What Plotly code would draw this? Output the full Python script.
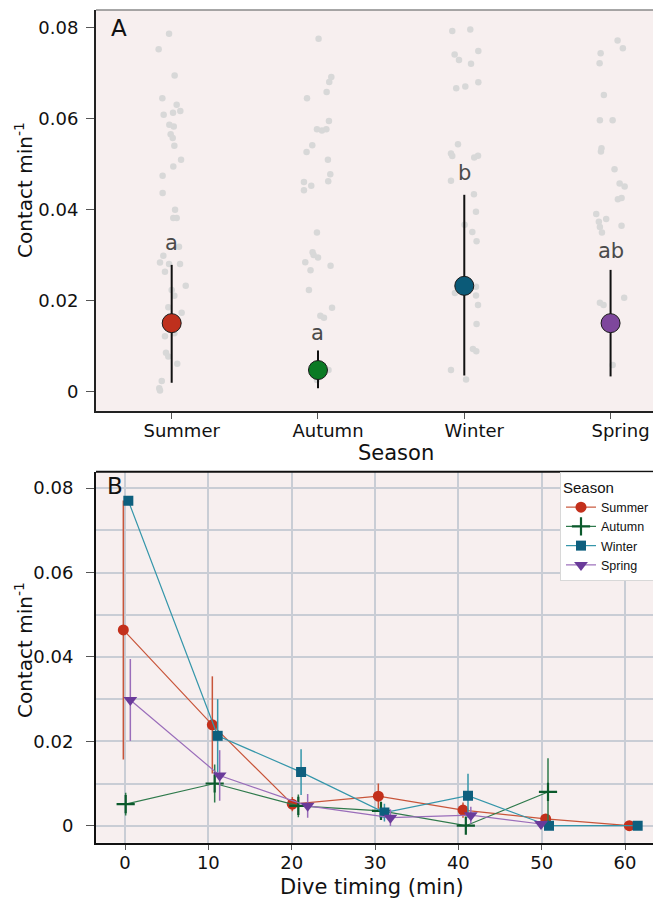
import plotly.graph_objects as go

# ---------------- Panel A data ----------------
seasons = ["Summer", "Autumn", "Winter", "Spring"]

summer_vals = [0.0753, 0.0787, 0.0695, 0.0645, 0.0631, 0.0617, 0.0613, 0.0609, 0.0587, 0.0583,
               0.0566, 0.0558, 0.0541, 0.0510, 0.0495, 0.0475, 0.0437, 0.0400, 0.0382, 0.0382,
               0.0319, 0.0299, 0.0284, 0.0281, 0.0281, 0.0264, 0.0233, 0.0224, 0.0211, 0.0186,
               0.0174, 0.0158, 0.0129, 0.0122, 0.0086, 0.0078, 0.0062, 0.0024, 0.0008, 0.0003]
summer_jit = [-0.089, -0.018, 0.020, -0.064, 0.034, 0.059, 0.009, -0.055, -0.016, 0.014,
              -0.007, 0.007, 0.018, 0.064, 0.011, -0.062, -0.062, 0.023, 0.011, 0.034,
              0.050, -0.057, -0.080, -0.018, 0.057, -0.046, 0.096, 0.000, 0.018, -0.023,
              0.068, 0.011, 0.018, -0.046, -0.039, -0.023, 0.038, -0.068, -0.085, -0.080]

autumn_vals = [0.0776, 0.0692, 0.0681, 0.0659, 0.0645, 0.0595, 0.0577, 0.0574, 0.0577, 0.0542,
               0.0527, 0.0510, 0.0478, 0.0463, 0.0461, 0.0453, 0.0443, 0.0350, 0.0307, 0.0301,
               0.0295, 0.0285, 0.0277, 0.0267, 0.0224, 0.0185, 0.0167, 0.0163, 0.0048, 0.0026]
autumn_jit = [0.004, 0.091, 0.077, 0.059, -0.075, 0.075, -0.007, 0.027, 0.057, -0.039,
              -0.078, 0.068, 0.084, 0.070, -0.096, -0.046, -0.096, -0.007, -0.037, -0.030,
              0.000, -0.087, 0.086, -0.051, -0.062, 0.096, 0.016, 0.041, 0.072, -0.007]

winter_vals = [0.0793, 0.0796, 0.0741, 0.0749, 0.0729, 0.0721, 0.0667, 0.0671, 0.0680, 0.0544,
               0.0524, 0.0518, 0.0515, 0.0519, 0.0464, 0.0434, 0.0396, 0.0367, 0.0351, 0.0331,
               0.0231, 0.0217, 0.0212, 0.0191, 0.0149, 0.0094, 0.0089, 0.0048, 0.0027]
winter_jit = [-0.082, 0.041, -0.066, 0.096, -0.036, 0.046, -0.055, 0.007, 0.096, -0.043,
              -0.091, -0.082, 0.068, 0.094, -0.091, 0.066, 0.080, 0.002, 0.055, 0.084,
              0.080, -0.064, 0.080, 0.094, 0.084, 0.059, 0.082, -0.091, 0.012]

spring_vals = [0.0772, 0.0755, 0.0744, 0.0722, 0.0652, 0.0597, 0.0597, 0.0535, 0.0528, 0.0489,
               0.0458, 0.0451, 0.0423, 0.0426, 0.0391, 0.0374, 0.0380, 0.0362, 0.0350, 0.0365,
               0.0207, 0.0196, 0.0191, 0.0059]
spring_jit = [0.048, 0.084, -0.068, -0.075, -0.046, -0.073, 0.014, -0.062, -0.066, 0.027,
              0.062, 0.096, 0.050, 0.075, -0.098, -0.080, -0.030, -0.073, -0.059, 0.075,
              0.093, -0.073, -0.048, 0.014]

season_means = [0.0151, 0.0048, 0.0233, 0.0151]
season_lo = [0.0020, 0.0008, 0.0036, 0.0034]
season_hi = [0.0279, 0.0091, 0.0433, 0.0268]
season_letters = ["a", "a", "b", "ab"]
letter_y = [0.0328, 0.0130, 0.0481, 0.0310]
season_colors_a = ["#BF301D", "#0B7A24", "#0B5A78", "#7E479C"]

# ---------------- Panel B data ----------------
summer_t = [-0.2, 10.48, 20.08, 30.4, 40.56, 50.48, 60.52]
summer_c = [0.0464, 0.0239, 0.0051, 0.0070, 0.0037, 0.0016, 0.0]
summer_e = [0.0307, 0.0115, 0.0017, 0.0030, 0.0018, 0.0010, 0.0]

autumn_t = [0.08, 10.76, 20.8, 30.72, 40.9, 50.76]
autumn_c = [0.0051, 0.0100, 0.0047, 0.0035, 0.0, 0.0080]
autumn_e = [0.0027, 0.0045, 0.0027, 0.0020, 0.0005, 0.0080]

winter_t = [0.4, 11.12, 21.13, 31.13, 41.16, 50.88, 61.52]
winter_c = [0.0770, 0.0213, 0.0127, 0.0031, 0.0071, 0.0, 0.0]
winter_e = [0.0, 0.0087, 0.0054, 0.0021, 0.0052, 0.0, 0.0]

spring_t = [0.64, 11.36, 21.92, 31.85, 41.5, 49.92]
spring_c = [0.0298, 0.0119, 0.0047, 0.0019, 0.0025, 0.0004]
spring_e = [0.0097, 0.0060, 0.0028, 0.0020, 0.0020, 0.0003]

y_ticks = [0, 0.02, 0.04, 0.06, 0.08]
y_ticktext = ["0", "0.02", "0.04", "0.06", "0.08"]
x_ticks_b = [0, 10, 20, 30, 40, 50, 60]

# ---------------- Figure ----------------
W, H = 653, 905
FONT = "DejaVu Sans"
BG = "#F7EFEF"
GRID = "#C9CDD5"


def px_x(p):
    return p / W


def px_y(p):
    return 1 - p / H


fig = go.Figure()

# Panel A jittered raw points
for i, (vals, jit) in enumerate([(summer_vals, summer_jit), (autumn_vals, autumn_jit),
                                  (winter_vals, winter_jit), (spring_vals, spring_jit)]):
    fig.add_trace(go.Scatter(
        x=[i + 1 + j for j in jit], y=vals, mode="markers",
        marker=dict(size=6.5, color="#D8D8D8"),
        xaxis="x", yaxis="y", showlegend=False, hoverinfo="skip"))

# Panel A means with intervals
fig.add_trace(go.Scatter(
    x=[1, 2, 3, 4], y=season_means, mode="markers",
    marker=dict(size=19, color=season_colors_a, line=dict(color="#1a1a1a", width=1)),
    error_y=dict(type="data", symmetric=False,
                 array=[h - m for h, m in zip(season_hi, season_means)],
                 arrayminus=[m - l for m, l in zip(season_means, season_lo)],
                 color="#111111", thickness=2, width=0),
    xaxis="x", yaxis="y", showlegend=False))

# Panel B series
series_b = [
    ("Summer", summer_t, summer_c, summer_e, "#C3301C", "#C8553A", "circle", 11, 0),
    ("Autumn", autumn_t, autumn_c, autumn_e, "#0B5A2C", "#2F7A4C", "cross-thin", 13, 2.2),
    ("Winter", winter_t, winter_c, winter_e, "#0E5F7E", "#3596AA", "square", 10, 0),
    ("Spring", spring_t, spring_c, spring_e, "#6A3B9A", "#9A6DBA", "triangle-down", 12, 0),
]
for name, t, c, e, mcol, lcol, sym, size, lw in series_b:
    fig.add_trace(go.Scatter(
        x=t, y=c, mode="lines+markers", name=name,
        line=dict(color=lcol, width=1.2),
        marker=dict(symbol=sym, size=size, color=mcol, line=dict(color=mcol, width=lw)),
        error_y=dict(type="data", array=e, color=lcol, thickness=1.5, width=0),
        xaxis="x2", yaxis="y2"))

axis_font = dict(family=FONT, size=18, color="#111111")

fig.update_layout(
    width=W, height=H,
    margin=dict(l=0, r=0, t=0, b=0, autoexpand=False),
    paper_bgcolor="white",
    font=dict(family=FONT, color="#111111"),
    xaxis=dict(domain=[px_x(96), 1.0], anchor="y", range=[0.4826, 4.29],
               tickmode="array", tickvals=[1, 2, 3, 4], ticktext=seasons,
               showgrid=False, zeroline=False, showline=True, linecolor="#222222", linewidth=2,
               ticks="outside", ticklen=6, tickwidth=1, tickcolor="#555555",
               tickfont=axis_font, ticklabelshift=10, ticklabelstandoff=-4),
    yaxis=dict(domain=[px_y(411), px_y(10)], anchor="x", range=[-0.0042, 0.0839],
               tickmode="array", tickvals=y_ticks, ticktext=y_ticktext,
               showgrid=False, zeroline=False, showline=True, linecolor="#222222", linewidth=2,
               ticks="outside", ticklen=8, tickwidth=1, tickcolor="#555555",
               tickfont=axis_font, ticklabelstandoff=4),
    xaxis2=dict(domain=[px_x(96), 1.0], anchor="y2", range=[-3.48, 63.36],
                tickmode="array", tickvals=x_ticks_b,
                showgrid=True, gridcolor=GRID, gridwidth=2, zeroline=False,
                showline=True, linecolor="#111111", linewidth=2,
                ticks="outside", ticklen=5, tickwidth=1, tickcolor="#555555",
                tickfont=axis_font, ticklabelstandoff=-2),
    yaxis2=dict(domain=[px_y(842.7), px_y(471.7)], anchor="x2", range=[-0.00403, 0.0839],
                tickmode="array", tickvals=y_ticks, ticktext=y_ticktext,
                showgrid=True, gridcolor=GRID, gridwidth=2, zeroline=False,
                minor=dict(tickmode="linear", tick0=0, dtick=0.01, showgrid=True,
                           gridcolor=GRID, gridwidth=2),
                showline=True, linecolor="#111111", linewidth=2,
                ticks="outside", ticklen=8, tickwidth=1, tickcolor="#555555",
                tickfont=axis_font, ticklabelstandoff=9),
    plot_bgcolor=BG,
    legend=dict(x=px_x(560), y=px_y(472), xanchor="left", yanchor="top",
                bgcolor="white", bordercolor="#D8D8D8", borderwidth=1,
                font=dict(family="Liberation Sans", size=12.5, color="#111111"),
                title=dict(text="Season", font=dict(family="Liberation Sans", size=15, color="#111111")),
                itemwidth=30),
)

# Top borders of the panels
fig.add_shape(type="line", xref="paper", yref="paper", x0=px_x(96), x1=1.0,
              y0=px_y(10), y1=px_y(10), line=dict(color="#8A8A8A", width=1.5))
fig.add_shape(type="line", xref="paper", yref="paper", x0=px_x(96), x1=1.0,
              y0=px_y(471.7), y1=px_y(471.7), line=dict(color="#111111", width=2))

annotations = []
# Significance letters
for i, (lab, ly) in enumerate(zip(season_letters, letter_y)):
    annotations.append(dict(x=i + 1, y=ly, xref="x", yref="y", text=lab, showarrow=False,
                            xanchor="center", yanchor="middle",
                            font=dict(family=FONT, size=21, color="#4A4A4A")))


def paper_text(x, y, text, size, angle=0):
    return dict(x=px_x(x), y=px_y(y), xref="paper", yref="paper", text=text,
                showarrow=False, xanchor="center", yanchor="middle", textangle=angle,
                font=dict(family=FONT, size=size, color="#111111"))


annotations.append(paper_text(119, 28.5, "A", 23))
annotations.append(paper_text(115, 485.5, "B", 23))
annotations.append(paper_text(24, 190, "Contact min<sup>-1</sup>", 20, -90))
annotations.append(paper_text(24, 650, "Contact min<sup>-1</sup>", 20, -90))
annotations.append(paper_text(396, 453, "Season", 21))
annotations.append(paper_text(372, 887, "Dive timing (min)", 21))
fig.update_layout(annotations=annotations)

fig.write_html("out.html", config={"displayModeBar": False},
               post_script="document.body.style.margin='0';document.body.style.overflow='hidden';")
